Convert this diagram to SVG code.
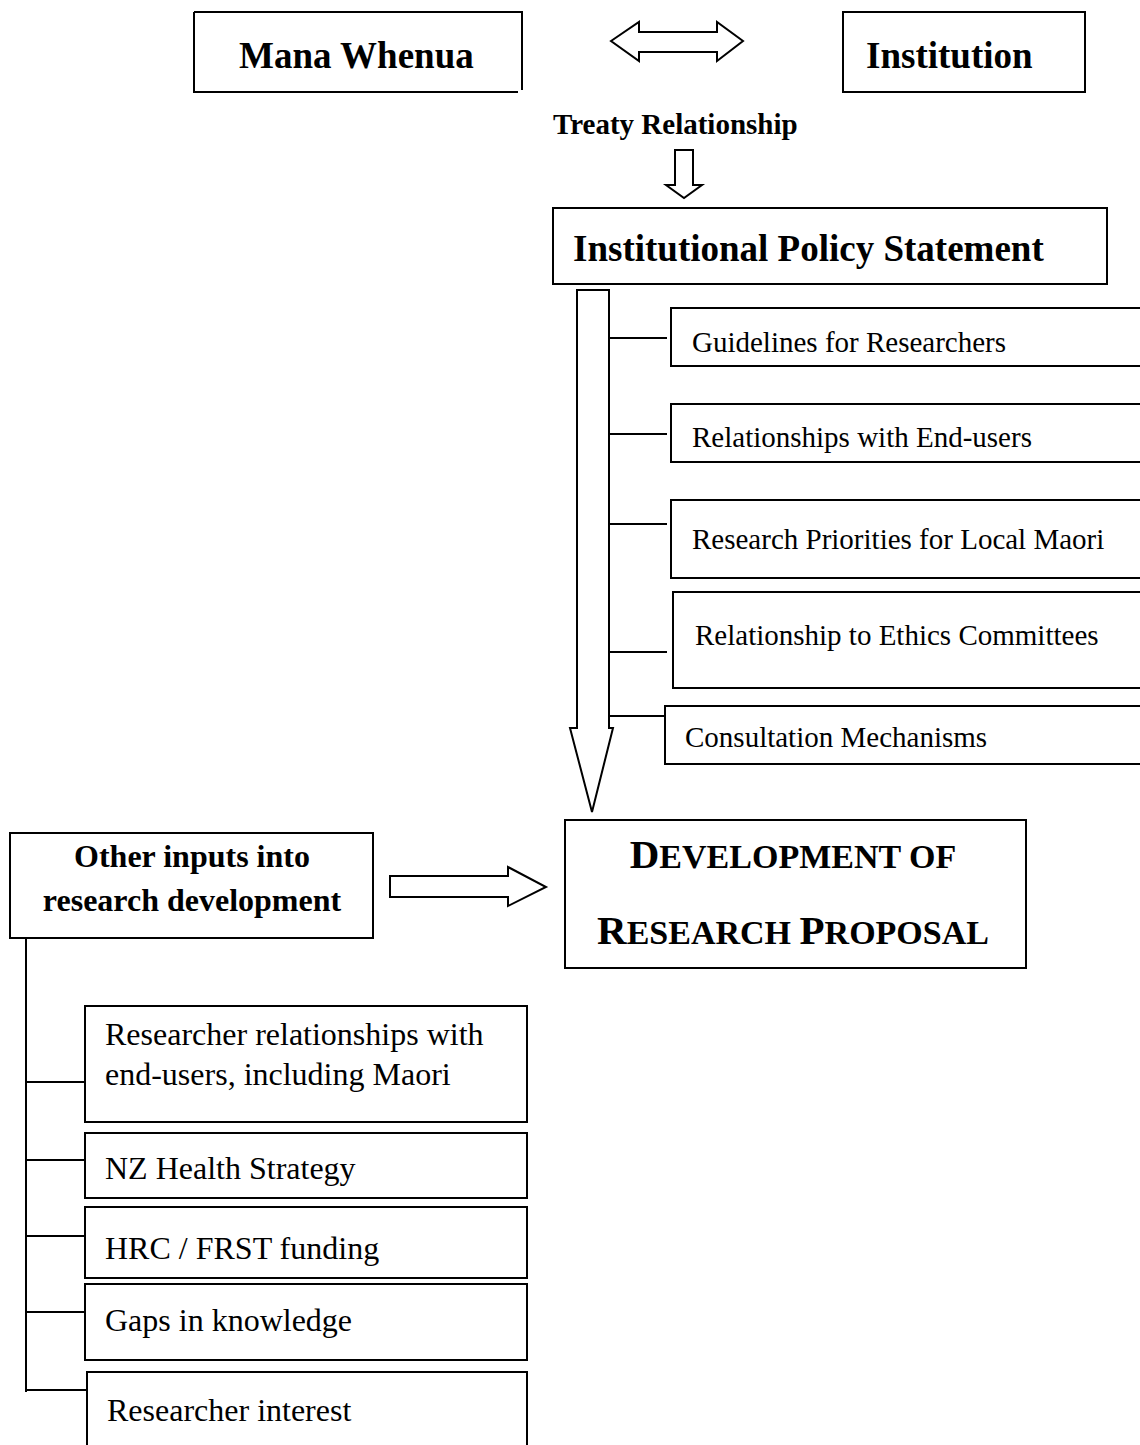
<svg xmlns="http://www.w3.org/2000/svg" width="1140" height="1445" viewBox="0 0 1140 1445">
<style>
.box{fill:#fff;stroke:#000;stroke-width:2}
.ln{fill:none;stroke:#000;stroke-width:2}
.arr{fill:#fff;stroke:#000;stroke-width:2;stroke-linejoin:miter}
.tb{font-family:"Liberation Serif","Times New Roman",serif;font-weight:bold;fill:#000}
.tr{font-family:"Liberation Serif","Times New Roman",serif;fill:#000}
</style>
<rect width="1140" height="1445" fill="#fff"/>
<g id="connectors">
<polygon class="arr" points="611,41 639,22 639,32 717,32 717,22 743,41 717,61 717,52 639,52 639,61"/>
<polygon class="arr" points="675,150 693,150 693,185 702,185 684,198 666,185 675,185"/>
<polygon class="arr" points="577,290 609,290 609,728 613,728 592,812 570,728 577,728"/>
<polygon class="arr" points="390,876 508,876 508,867 546,887 508,906 508,897 390,897"/>
<path class="ln" d="M610,338H667M610,434H667M610,524H667M610,652H667M610,716H667"/>
<path class="ln" d="M26,938V1392M26,1082H85M26,1160H85M26,1236H85M26,1312H85M26,1390H87"/>
</g>
<g id="mana-whenua">
<rect x="194" y="12" width="328" height="80" fill="#fff"/>
<path class="ln" d="M194,12H522V90M194,12V92H518"/>
<text class="tb" x="239" y="68" font-size="37">Mana Whenua</text>
</g>
<g id="institution">
<rect class="box" x="843" y="12" width="242" height="80"/>
<text class="tb" x="866" y="68" font-size="37">Institution</text>
</g>
<g id="treaty-label">
<text class="tb" x="553" y="134" font-size="29">Treaty Relationship</text>
</g>
<g id="policy">
<rect class="box" x="553" y="208" width="554" height="76"/>
<text class="tb" x="573" y="261" font-size="37">Institutional Policy Statement</text>
</g>
<g id="guidelines">
<rect class="box" x="671" y="308" width="480" height="58"/>
<text class="tr" x="692" y="352" font-size="29">Guidelines for Researchers</text>
</g>
<g id="end-users">
<rect class="box" x="671" y="404" width="480" height="58"/>
<text class="tr" x="692" y="447" font-size="29">Relationships with End-users</text>
</g>
<g id="priorities">
<rect class="box" x="671" y="500" width="480" height="78"/>
<text class="tr" x="692" y="549" font-size="29">Research Priorities for Local Maori</text>
</g>
<g id="ethics">
<rect class="box" x="673" y="592" width="478" height="96"/>
<text class="tr" x="695" y="645" font-size="29">Relationship to Ethics Committees</text>
</g>
<g id="consultation">
<rect class="box" x="665" y="706" width="486" height="58"/>
<text class="tr" x="685" y="747" font-size="29">Consultation Mechanisms</text>
</g>
<g id="development">
<rect class="box" x="565" y="820" width="461" height="148"/>
<text class="tb" x="793" y="868" text-anchor="middle" font-size="34"><tspan font-size="41">D</tspan>EVELOPMENT OF</text>
<text class="tb" x="793" y="944" text-anchor="middle" font-size="34"><tspan font-size="41">R</tspan>ESEARCH <tspan font-size="41">P</tspan>ROPOSAL</text>
</g>
<g id="other-inputs">
<rect class="box" x="10" y="833" width="363" height="105"/>
<text class="tb" x="192" y="867" text-anchor="middle" font-size="32">Other inputs into</text>
<text class="tb" x="192" y="911" text-anchor="middle" font-size="32">research development</text>
</g>
<g id="researcher-relationships">
<rect class="box" x="85" y="1006" width="442" height="116"/>
<text class="tr" x="105" y="1045" font-size="32">Researcher relationships with</text>
<text class="tr" x="105" y="1085" font-size="32">end-users, including Maori</text>
</g>
<g id="nz-health">
<rect class="box" x="85" y="1133" width="442" height="65"/>
<text class="tr" x="105" y="1179" font-size="32">NZ Health Strategy</text>
</g>
<g id="hrc-frst">
<rect class="box" x="85" y="1207" width="442" height="71"/>
<text class="tr" x="105" y="1259" font-size="32">HRC / FRST funding</text>
</g>
<g id="gaps">
<rect class="box" x="85" y="1284" width="442" height="76"/>
<text class="tr" x="105" y="1331" font-size="32">Gaps in knowledge</text>
</g>
<g id="researcher-interest">
<rect class="box" x="87" y="1372" width="440" height="90"/>
<text class="tr" x="107" y="1421" font-size="32">Researcher interest</text>
</g>
</svg>
